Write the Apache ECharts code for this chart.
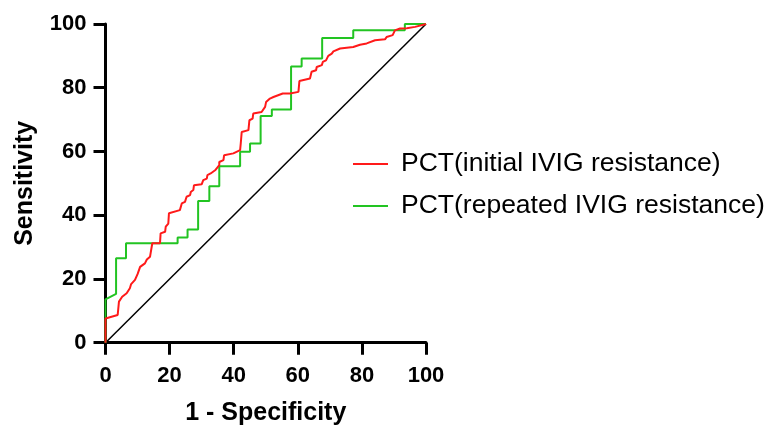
<!DOCTYPE html>
<html>
<head>
<meta charset="utf-8">
<script src="https://cdn.jsdelivr.net/npm/echarts@6/dist/echarts.min.js"></script>
<style>
  html, body { margin: 0; padding: 0; background: #fff; }
  #chart { width: 771px; height: 428px; }
</style>
</head>
<body>
<div id="chart"></div>
<script>
// ROC curves (x = 1 - specificity %, y = sensitivity %)
const initialX = [0, 0, 3.8, 4.2, 5.2, 6.6, 7.6, 8.0, 9.2, 10.0, 10.8, 12.3, 12.9, 13.9, 14.6, 17.0, 17.2, 18.6, 18.8, 19.6, 19.8, 23.2, 23.8, 24.8, 25.3, 26.4, 26.6, 27.4, 27.6, 30.0, 30.5, 31.6, 31.8, 32.8, 33.1, 34.2, 35.5, 35.5, 36.8, 37.0, 39.9, 40.4, 42.0, 42.2, 42.5, 44.6, 44.9, 45.9, 46.1, 48.7, 49.8, 50.1, 51.3, 52.4, 55.3, 57.6, 60.2, 60.5, 63.8, 64.3, 65.7, 65.9, 67.5, 67.8, 68.8, 69.5, 70.6, 71.1, 73.2, 77.3, 79.4, 81.5, 84.1, 87.2, 87.7, 89.6, 90.3, 91.9, 94.0, 96.6, 99.7, 100];
const initialY = [0, 7.6, 8.7, 12.9, 14.4, 15.5, 17.1, 18.4, 19.7, 21.5, 23.8, 24.9, 26.1, 27.0, 31.2, 31.2, 34.3, 34.8, 36.4, 37.4, 40.6, 41.6, 43.7, 44.2, 45.8, 46.3, 47.3, 47.9, 49.4, 49.7, 51.0, 51.5, 52.6, 53.1, 53.6, 54.1, 55.7, 56.7, 57.3, 58.8, 59.4, 59.9, 60.4, 62.5, 66.1, 66.7, 69.8, 70.3, 71.9, 72.4, 74.0, 75.5, 76.6, 77.1, 78.2, 78.2, 78.7, 82.1, 82.9, 85.0, 85.5, 86.5, 87.1, 88.1, 88.6, 90.0, 90.7, 91.4, 92.3, 92.8, 93.5, 93.9, 94.9, 95.2, 95.9, 96.5, 98.0, 98.6, 98.7, 99.1, 99.9, 100];

const repeatedX = [0, 0, 3.3, 3.3, 6.4, 6.4, 22.5, 22.5, 25.6, 25.6, 28.9, 28.9, 32.4, 32.4, 35.5, 35.5, 42.0, 42.0, 45.1, 45.1, 48.4, 48.4, 51.9, 51.9, 57.9, 57.9, 61.2, 61.2, 67.6, 67.6, 77.3, 77.3, 93.4, 93.4, 100];
const repeatedY = [0, 13.6, 15.3, 26.5, 26.5, 31.2, 31.2, 33.0, 33.0, 35.5, 35.5, 44.5, 44.5, 49.1, 49.1, 55.4, 55.4, 59.9, 59.9, 62.5, 62.5, 71.1, 71.1, 73.2, 73.2, 86.7, 86.7, 89.2, 89.2, 95.6, 95.6, 98.0, 98.0, 100, 100];

const refX = [0, 100];
const refY = [0, 100];

const axisTicks = [0, 20, 40, 60, 80, 100];

const seriesNames = ['PCT(initial IVIG resistance)', 'PCT(repeated IVIG resistance)'];

function pairs(xs, ys) {
  return xs.map((x, i) => [x, ys[i]]);
}

const font = '"Liberation Sans", Arial, Helvetica, sans-serif';

const axisCommon = {
  type: 'value',
  min: axisTicks[0],
  max: axisTicks[axisTicks.length - 1],
  interval: axisTicks[1] - axisTicks[0],
  nameLocation: 'middle',
  nameTextStyle: { fontFamily: font, fontSize: 25, fontWeight: 'bold', color: '#000' },
  axisLine: { show: true, onZero: false, lineStyle: { color: '#000', width: 3 } },
  axisTick: { show: true, length: 12, lineStyle: { color: '#000', width: 3 } },
  axisLabel: { fontFamily: font, fontSize: 22, fontWeight: 'bold', color: '#000' },
  splitLine: { show: false }
};

const chart = echarts.init(document.getElementById('chart'), null, { renderer: 'canvas' });

chart.setOption({
  animation: false,
  backgroundColor: '#fff',
  grid: {
    left: 105.5,
    right: 345,
    top: 24,
    bottom: 85.3,
    containLabel: false,
    outerBoundsMode: 'none'
  },
  xAxis: Object.assign({}, axisCommon, {
    name: '1 - Specificity',
    nameGap: 58,
    axisLabel: Object.assign({}, axisCommon.axisLabel, { margin: 22 })
  }),
  yAxis: Object.assign({}, axisCommon, {
    name: 'Sensitivity',
    nameGap: 68,
    nameRotate: 90,
    axisLabel: Object.assign({}, axisCommon.axisLabel, { margin: 19 })
  }),
  legend: {
    orient: 'vertical',
    left: 348,
    top: 144,
    icon: 'rect',
    itemWidth: 35,
    itemHeight: 2,
    itemGap: 12,
    data: seriesNames,
    textStyle: { fontFamily: font, fontSize: 26.5, lineHeight: 30, color: '#000', padding: [0, 0, 0, 8] }
  },
  series: [
    {
      name: 'reference',
      type: 'line',
      data: pairs(refX, refY),
      symbol: 'none',
      silent: true,
      lineStyle: { color: '#000', width: 1.5 },
      z: 1
    },
    {
      name: seriesNames[1],
      type: 'line',
      data: pairs(repeatedX, repeatedY),
      symbol: 'none',
      itemStyle: { color: '#22c422' },
      lineStyle: { color: '#22c422', width: 2 },
      z: 2
    },
    {
      name: seriesNames[0],
      type: 'line',
      data: pairs(initialX, initialY),
      symbol: 'none',
      itemStyle: { color: '#ff1a1a' },
      lineStyle: { color: '#ff1a1a', width: 2 },
      z: 3
    }
  ]
});
</script>
</body>
</html>
